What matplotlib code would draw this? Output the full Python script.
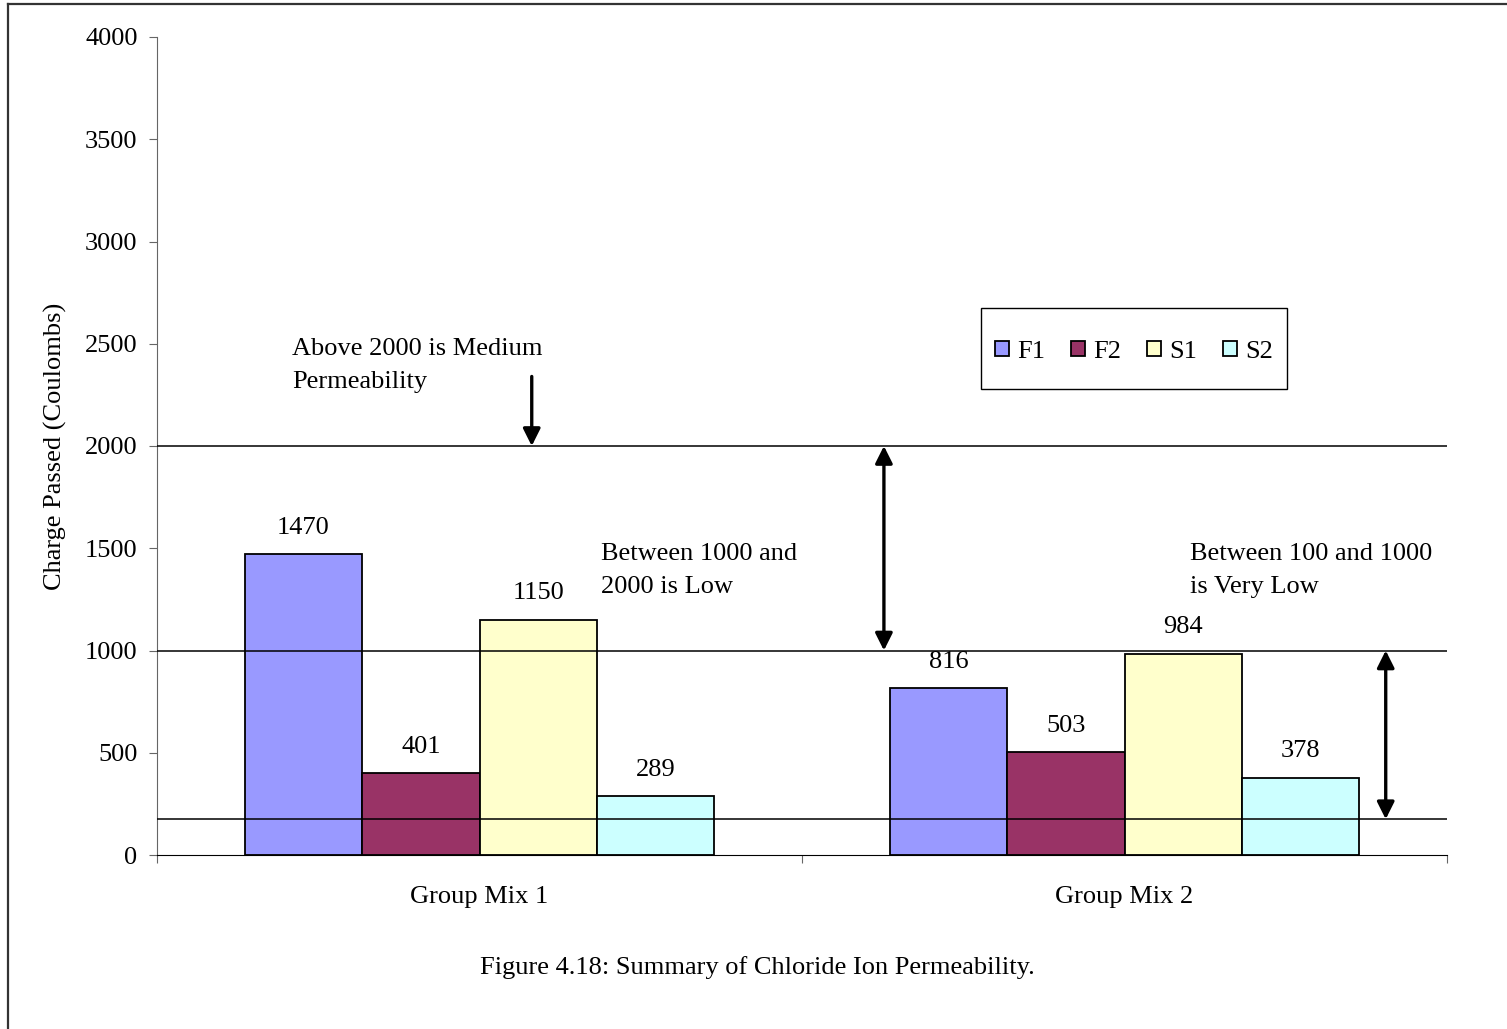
import numpy as np
import matplotlib
matplotlib.use("Agg")
import matplotlib.pyplot as plt
from matplotlib.patches import Rectangle
from matplotlib.lines import Line2D

plt.rcParams['font.family'] = ['Liberation Serif', 'DejaVu Serif']

groups = ["Group Mix 1", "Group Mix 2"]
series = ["F1", "F2", "S1", "S2"]
values = {
    "F1": [1470, 816],
    "F2": [401, 503],
    "S1": [1150, 984],
    "S2": [289, 378],
}
colors = {"F1": "#9999FF", "F2": "#993366", "S1": "#FFFFCC", "S2": "#CCFFFF"}
limits = [2000, 1000, 175]  # permeability class boundaries (coulombs)
yticks = [0, 500, 1000, 1500, 2000, 2500, 3000, 3500, 4000]

W, H = 1507, 1029
fig = plt.figure(figsize=(W / 100, H / 100), dpi=100)
ax = fig.add_axes([157 / W, 1 - 855 / H, (1447 - 157) / W, (855 - 37) / H])

fs = 19
x = np.arange(len(groups))
w = 0.182
for i, s in enumerate(series):
    pos = x + (i - 1.5) * w
    ax.bar(pos, values[s], width=w, color=colors[s], edgecolor="black",
           linewidth=1.3, label=s, zorder=2)
    for px, v in zip(pos, values[s]):
        ax.annotate(str(v), (px, v), xytext=(0, 19), textcoords="offset points",
                    ha="center", va="center", fontsize=fs)

for lim in limits:
    ax.axhline(lim, color="black", linewidth=1.1, zorder=3)

ax.set_xlim(-0.5, 1.5)
ax.set_ylim(0, 4000)
ax.set_yticks(yticks)
ax.set_yticklabels([str(t) for t in yticks], fontsize=fs)
ax.set_xticks([-0.5, 0.5, 1.5])
ax.set_xticklabels([])
ax.set_xticks(x, minor=True)
ax.set_xticklabels(groups, minor=True, fontsize=fs)
ax.tick_params(axis="x", which="minor", length=0, pad=22)
ax.tick_params(axis="x", which="major", length=6, direction="out", color="#666666")
ax.tick_params(axis="y", length=6, direction="out", pad=8, color="#666666")
for sp in ["top", "right"]:
    ax.spines[sp].set_visible(False)
ax.spines["left"].set_color("#666666")
ax.spines["bottom"].set_color("black")

# arrows marking the permeability bands
arrow = dict(arrowstyle="<|-|>", color="black", lw=2.4, mutation_scale=26,
             shrinkA=0, shrinkB=0)
ax.annotate("", xy=(0.627, 2000), xytext=(0.627, 1000), arrowprops=arrow, zorder=4)
ax.annotate("", xy=(1.405, 1000), xytext=(1.405, 175), arrowprops=arrow, zorder=4)
ax.annotate("", xy=(0.081, 2000), xytext=(0.081, 2340),
            arrowprops=dict(arrowstyle="-|>", color="black", lw=2.4,
                            mutation_scale=26, shrinkA=0, shrinkB=0), zorder=4)

ax.text(-0.291, 2394, "Above 2000 is Medium\nPermeability", fontsize=fs,
        ha="left", va="center", linespacing=1.62)
ax.text(0.188, 1392, "Between 1000 and\n2000 is Low", fontsize=fs,
        ha="left", va="center", linespacing=1.62)
ax.text(1.102, 1392, "Between 100 and 1000\nis Very Low", fontsize=fs,
        ha="left", va="center", linespacing=1.62)

fig.text(55 / W, 1 - 446 / H, "Charge Passed (Coulombs)", rotation=90,
         ha="center", va="center", fontsize=fs)
fig.text(757 / W, 1 - 968 / H, "Figure 4.18: Summary of Chloride Ion Permeability.",
         ha="center", va="center", fontsize=fs)

# legend with a plain box around it
fig.patches.append(Rectangle((981 / W, 1 - 389 / H), (1287 - 981) / W, (389 - 308) / H,
                             transform=fig.transFigure, facecolor="white",
                             edgecolor="black", linewidth=1.0, zorder=1))
leg = fig.legend(loc="center", bbox_to_anchor=(1134 / W, 1 - 352 / H), ncol=4,
                 frameon=False, fontsize=fs, handlelength=0.52, handleheight=0.52,
                 handletextpad=0.3, columnspacing=1.0, borderpad=0)
leg.set_zorder(5)

# outer frame (left and top edges)
fig.add_artist(Line2D([8 / W, 8 / W], [0, 1 - 4 / H], transform=fig.transFigure,
                      color="#333333", linewidth=1.6))
fig.add_artist(Line2D([8 / W, 1], [1 - 4 / H, 1 - 4 / H], transform=fig.transFigure,
                      color="#333333", linewidth=1.6))

fig.savefig("out.png", dpi=100)
